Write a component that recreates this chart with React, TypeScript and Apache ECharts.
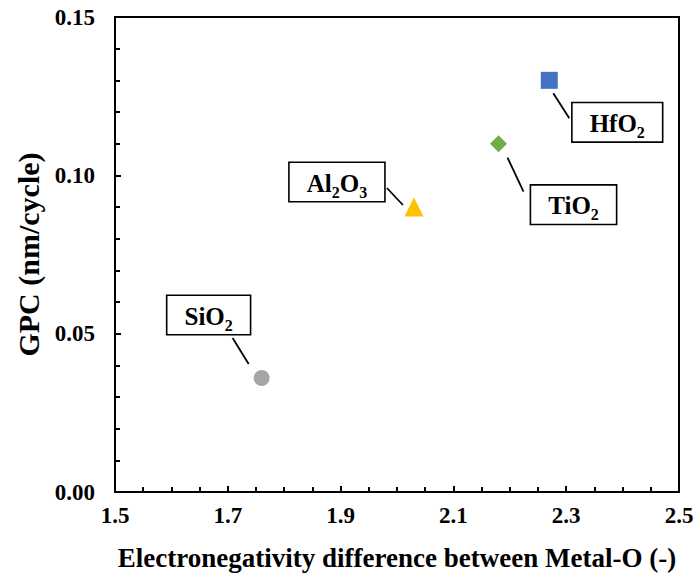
import React, { useEffect, useRef } from "react";
import * as echarts from "echarts";

const materials = ["SiO2", "Al2O3", "TiO2", "HfO2"];
const labelMain = [["SiO", "2"], ["Al", "2", "O", "3"], ["TiO", "2"], ["HfO", "2"]];
const enDiff = [1.76, 2.03, 2.18, 2.27];
const gpc = [0.036, 0.09, 0.11, 0.13];
const symbols = ["circle", "triangle", "diamond", "rect"];
const colors = ["#A5A5A5", "#FFC000", "#70AD47", "#4472C4"];
const symbolSizes = [16, 19, 17, 17];
// label box offsets (px) relative to point, and leader line rel. endpoints
const labelOffsets = [[-53, -63], [-77, -25], [75, 61], [68, 42]];
const leaderLines = [
  [-29, -40, -13, -14],
  [-27, -19, -11, -2],
  [9, 14, 25, 48],
  [4, 13, 20, 38],
];

const FONT = "'Liberation Serif', 'Times New Roman', serif";

export default function App() {
  const ref = useRef<HTMLDivElement>(null);
  useEffect(() => {
    document.body.style.margin = "0";
    const chart = echarts.init(ref.current!, undefined, { renderer: "svg" });
    const series = materials.map((m, i) => {
      const parts = labelMain[i];
      const fmt = parts.map((p, j) => (j % 2 === 0 ? `{a|${p}}` : `{b|${p}}`)).join("");
      return {
        name: m,
        type: "scatter",
        symbol: symbols[i],
        symbolSize: symbolSizes[i],
        itemStyle: { color: colors[i], opacity: 1 },
        data: [[enDiff[i], gpc[i]]],
        label: {
          show: true,
          position: "inside",
          offset: labelOffsets[i],
          formatter: fmt,
          backgroundColor: "#fff",
          borderColor: "#000",
          borderWidth: 1.6,
          padding: [3, 17, 1, 17],
          rich: {
            a: {
              fontFamily: FONT,
              fontWeight: "bold",
              fontSize: 25,
              color: "#000",
              lineHeight: 34,
              verticalAlign: "middle",
            },
            b: {
              fontFamily: FONT,
              fontWeight: "bold",
              fontSize: 16,
              color: "#000",
              lineHeight: 16,
              verticalAlign: "bottom",
            },
          },
        },
        emphasis: { disabled: true },
      };
    });
    chart.setOption({
      animation: false,
      grid: {
        left: 115,
        right: 18,
        top: 17,
        bottom: 86,
        show: true,
        borderColor: "#000",
        borderWidth: 2,
      },
      xAxis: {
        type: "value",
        min: 1.5,
        max: 2.5,
        interval: 0.2,
        name: "Electronegativity difference between Metal-O (-)",
        nameLocation: "middle",
        nameGap: 52,
        nameTextStyle: { fontFamily: FONT, fontWeight: "bold", fontSize: 27, color: "#000" },
        axisLine: { show: true, lineStyle: { color: "#000", width: 2 } },
        axisTick: { show: true, inside: true, length: 6, lineStyle: { color: "#000", width: 2 } },
        minorTick: { show: true, splitNumber: 4, length: 5, lineStyle: { color: "#000", width: 2 } },
        splitLine: { show: false },
        axisLabel: {
          fontFamily: FONT,
          fontWeight: "bold",
          fontSize: 23,
          color: "#000",
          margin: 12,
          formatter: (v: number) => v.toFixed(1),
        },
      },
      yAxis: {
        type: "value",
        min: 0,
        max: 0.15,
        interval: 0.05,
        name: "GPC (nm/cycle)",
        nameLocation: "middle",
        nameGap: 70,
        nameTextStyle: { fontFamily: FONT, fontWeight: "bold", fontSize: 30, color: "#000" },
        axisLine: { show: true, lineStyle: { color: "#000", width: 2 } },
        axisTick: { show: true, inside: true, length: 6, lineStyle: { color: "#000", width: 2 } },
        minorTick: { show: true, splitNumber: 5, length: 5, lineStyle: { color: "#000", width: 2 } },
        splitLine: { show: false },
        axisLabel: {
          fontFamily: FONT,
          fontWeight: "bold",
          fontSize: 23,
          color: "#000",
          margin: 20,
          formatter: (v: number) => v.toFixed(2),
        },
      },
      series,
    });
    const graphic = materials.map((m, i) => {
      const p = chart.convertToPixel({ seriesIndex: i }, [enDiff[i], gpc[i]]) as number[];
      const l = leaderLines[i];
      return {
        type: "line",
        silent: true,
        shape: { x1: p[0] + l[0], y1: p[1] + l[1], x2: p[0] + l[2], y2: p[1] + l[3] },
        style: { stroke: "#000", lineWidth: 1.8 },
      };
    });
    chart.setOption({ graphic });
    return () => chart.dispose();
  }, []);
  return <div ref={ref} style={{ width: 697, height: 578 }} />;
}
